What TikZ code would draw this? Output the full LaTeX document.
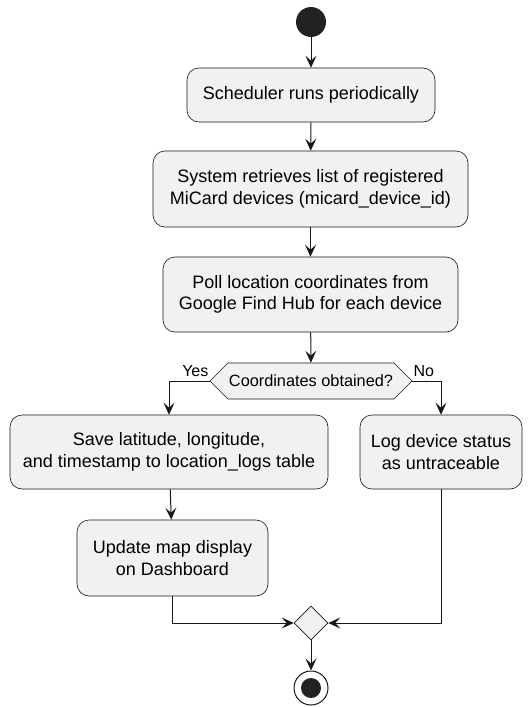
\documentclass[tikz,border=0pt]{standalone}
\usepackage{fontspec}
\setmainfont{Liberation Sans}
\usetikzlibrary{arrows.meta,positioning,shapes.geometric,shapes.symbols}
\definecolor{boxfill}{HTML}{F1F1F1}
\definecolor{ink}{HTML}{181818}
\definecolor{dot}{HTML}{222222}

\begin{document}
\begin{tikzpicture}[
        x=1pt, y=1pt,
        every node/.style={font=\fontsize{18pt}{21.5pt}\selectfont, align=center, inner sep=0pt},
        activity/.style={draw=ink, line width=.6pt, fill=boxfill, rounded corners=12pt},
        decision/.style={signal, signal to=west and east, signal pointer angle=90,
            draw=ink, line width=.6pt, fill=boxfill, minimum height=36pt, inner xsep=1pt,
            font=\fontsize{16.3pt}{19pt}\selectfont},
        merge/.style={diamond, draw=ink, line width=.6pt, fill=boxfill, minimum size=34pt},
        stopdot/.style={circle, draw=ink, line width=1pt, fill=white, minimum size=34pt,
            path picture={\fill[dot] (path picture bounding box.center) circle (10pt);}},
        guard/.style={font=\fontsize{16pt}{18pt}\selectfont, inner sep=1pt},
        flow/.style={draw=ink, line width=1pt, -{Stealth[length=12pt,width=11pt,inset=5pt]}}
    ]
    \useasboundingbox (0,0) rectangle (532,-707);
    \node[circle, fill=dot, minimum size=30pt] (start) at (311,-22) {};
    \node[activity, minimum width=248pt, minimum height=54pt] (sched) at (311,-95) {Scheduler runs periodically};
    \node[activity, minimum width=315pt, minimum height=76pt] (fetch) at (310.5,-189) {System retrieves list of registered\\MiCard devices (micard\_device\_id)};
    \node[activity, minimum width=295pt, minimum height=75pt] (poll) at (310.5,-294.5) {Poll location coordinates from\\Google Find Hub for each device};
    \node[decision] (dec) at (311,-381) {Coordinates obtained?};
    \node[guard, above left=3pt and 0pt of dec.west] {Yes};
    \node[guard, above right=3pt and 0pt of dec.east] {No};
    \node[activity, minimum width=318pt, minimum height=74pt] (save) at (169,-452) {Save latitude, longitude,\\and timestamp to location\_logs table};
    \node[activity, minimum width=162pt, minimum height=74pt] (log) at (441,-452) {Log device status\\as untraceable};
    \node[activity, minimum width=191pt, minimum height=76pt] (update) at (172.5,-558) {Update map display\\on Dashboard};
    \node[merge] (join) at (311,-623) {};
    \node[stopdot] (stop) at (311,-688) {};

    \draw[flow] (start) -- (sched);
    \draw[flow] (sched) -- (fetch);
    \draw[flow] (fetch) -- (poll);
    \draw[flow] (poll) -- (dec);
    \draw[flow] (dec.west) -| (save.north);
    \draw[flow] (dec.east) -| (log.north);
    \draw[flow] (save) -- (update);
    \draw[flow] (update.south) |- (join.west);
    \draw[flow] (log.south) |- (join.east);
    \draw[flow] (join) -- (stop);
\end{tikzpicture}
\end{document}
